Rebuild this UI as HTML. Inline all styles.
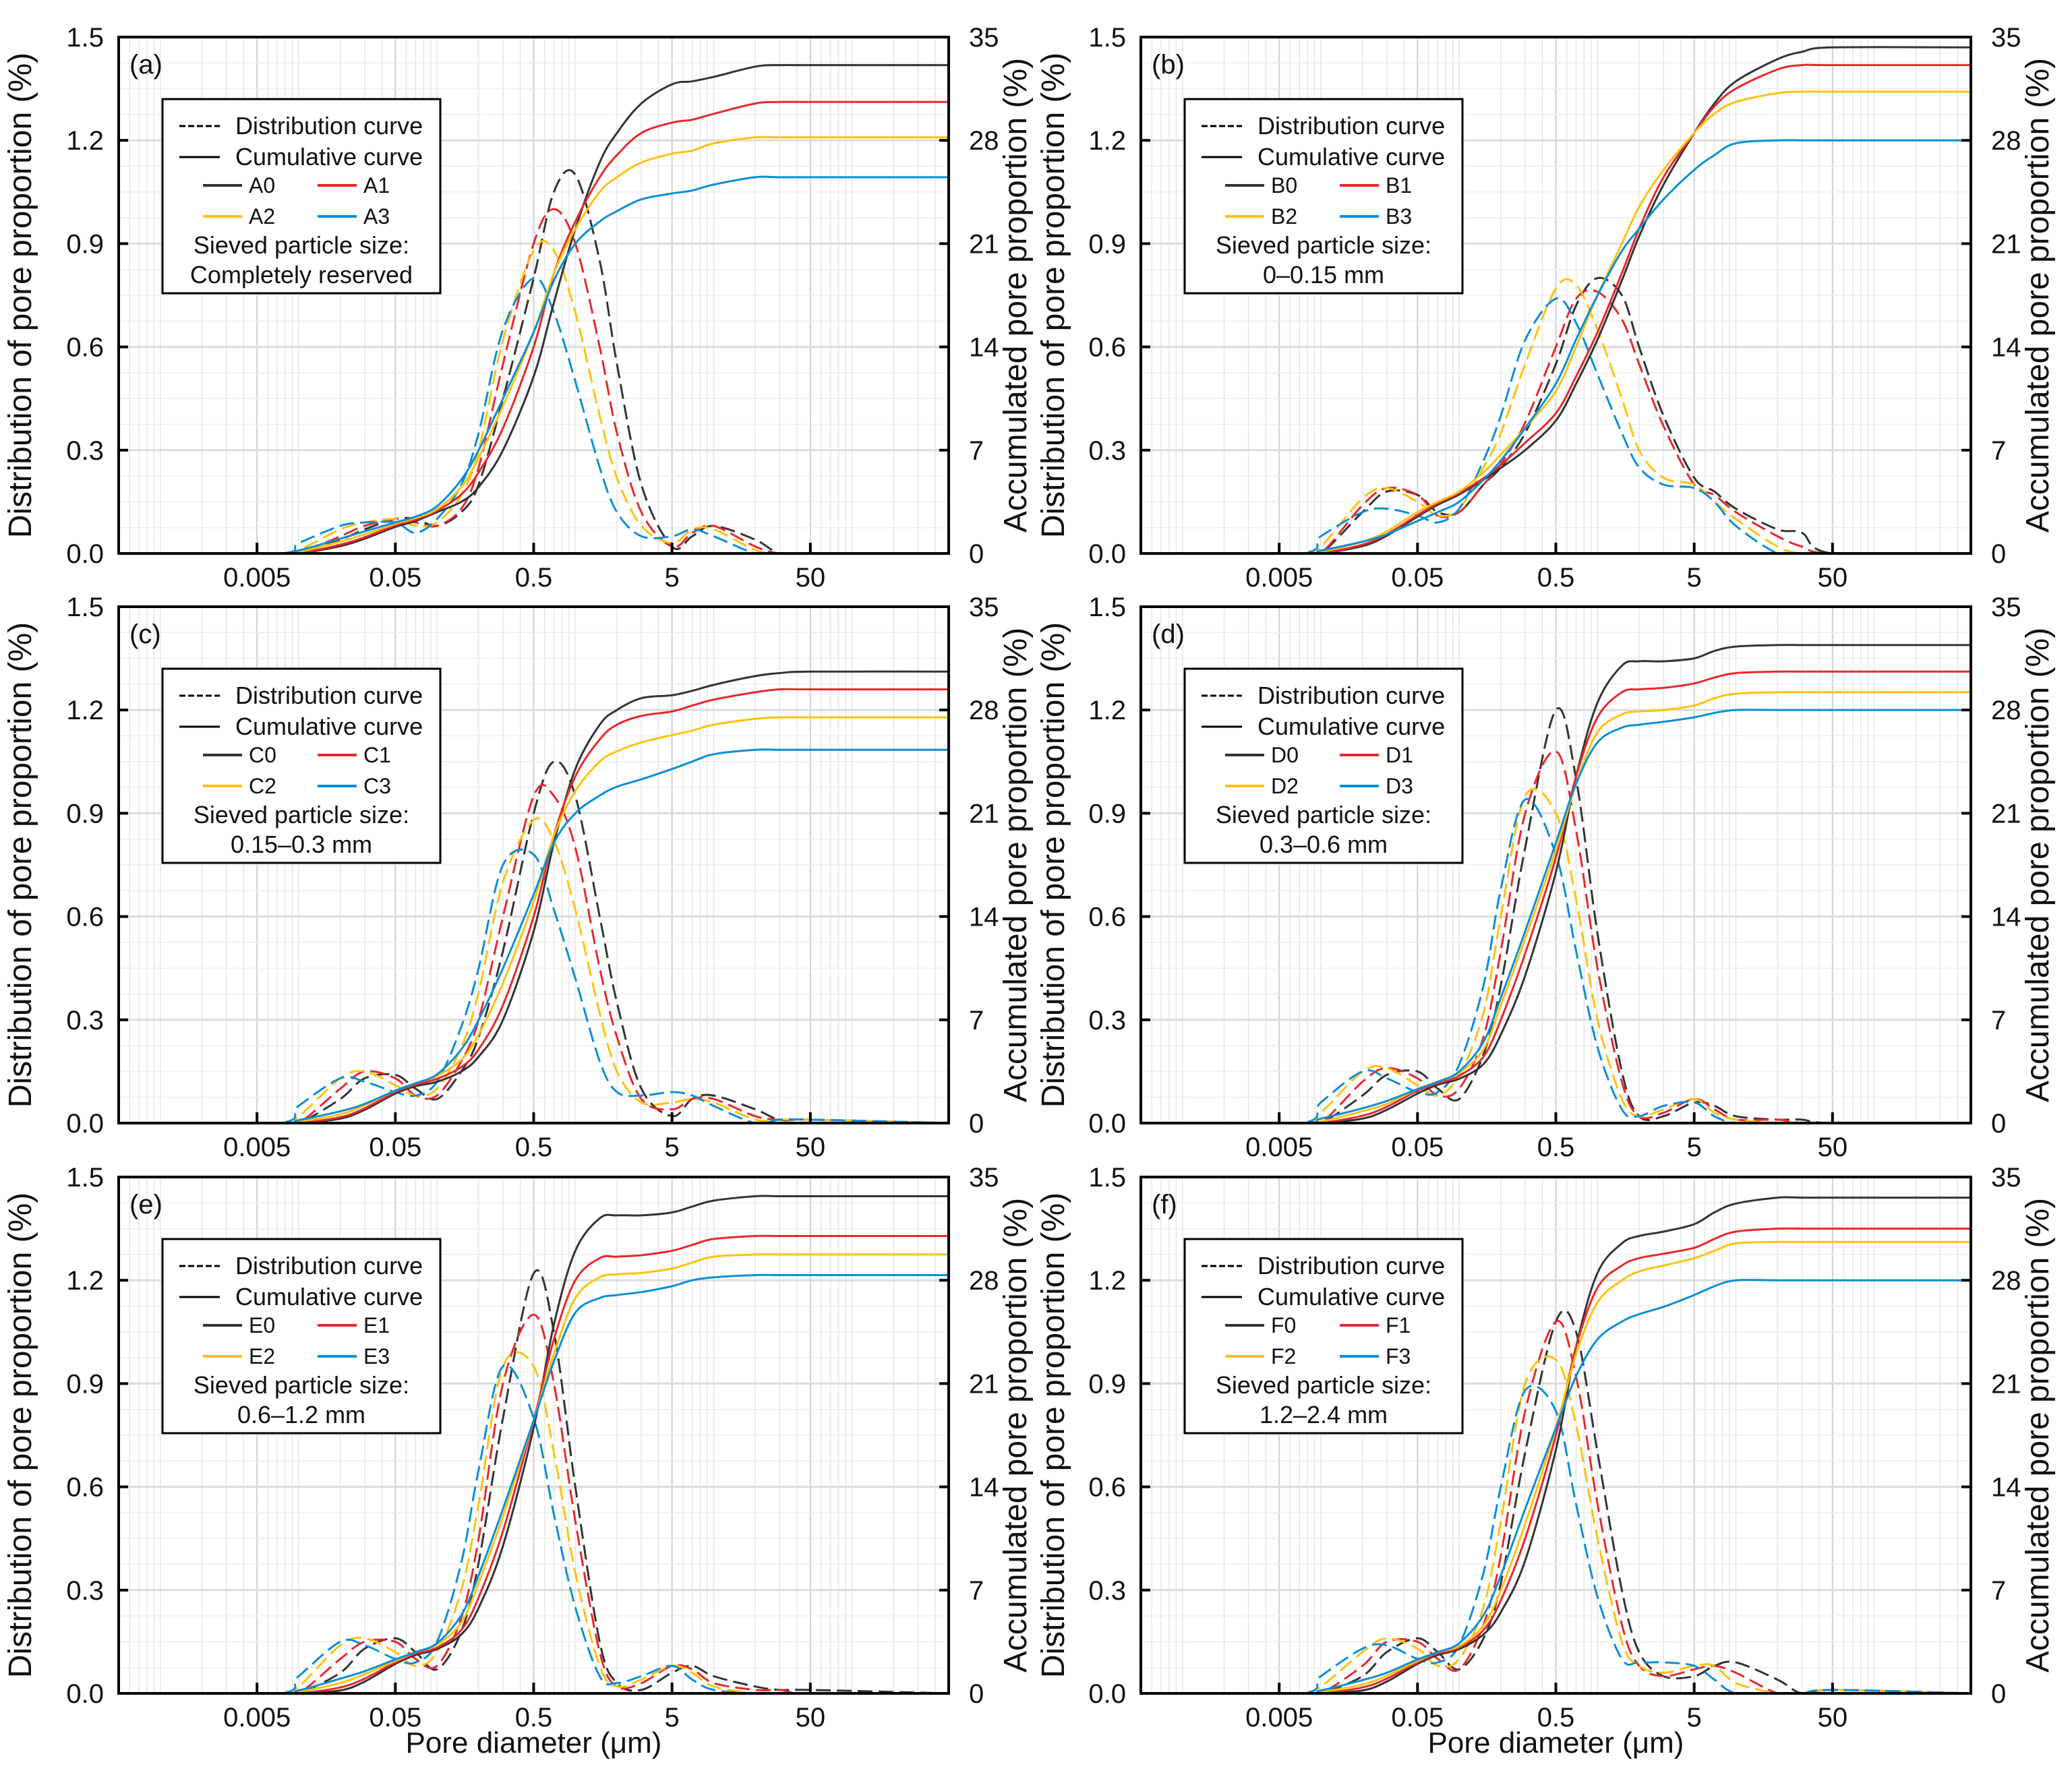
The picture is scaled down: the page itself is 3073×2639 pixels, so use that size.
<!DOCTYPE html>
<html><head><meta charset="utf-8"><style>
html,body{margin:0;padding:0;background:#fff;}
svg{display:block;font-family:"Liberation Sans",sans-serif;}
</style></head><body>
<svg id="fig" width="3073" height="2639" viewBox="0 0 3073 2639" xmlns="http://www.w3.org/2000/svg"></svg>
<script>
const diam = [0.007,0.01,0.02,0.03,0.05,0.07,0.1,0.15,0.2,0.3,0.5,0.7,1,1.5,2,3,5,7,10,20,30,50,500];
const xTicks = [0.005,0.05,0.5,5,50];
const xTickLabels = ["0.005","0.05","0.5","5","50"];
const yLeftTicks = ["0.0","0.3","0.6","0.9","1.2","1.5"];
const yRightTicks = ["0","7","14","21","28","35"];
const panelLetters = ["a","b","c","d","e","f"];
const panelSizes = ["Completely reserved","0\u20130.15 mm","0.15\u20130.3 mm","0.3\u20130.6 mm","0.6\u20131.2 mm","1.2\u20132.4 mm"];
const distA = [
[0,0,0.04,0.07,0.1,0.1,0.08,0.12,0.2,0.45,0.8,1.05,1.1,0.85,0.55,0.2,0.02,0.05,0.08,0.04,0,0,0],
[0,0,0.05,0.08,0.1,0.09,0.08,0.13,0.25,0.55,0.9,1.0,0.9,0.6,0.35,0.12,0.02,0.06,0.08,0.02,0,0,0],
[0,0.01,0.07,0.09,0.1,0.08,0.09,0.17,0.3,0.62,0.88,0.88,0.7,0.4,0.22,0.08,0.03,0.07,0.07,0.01,0,0,0],
[0,0.03,0.08,0.09,0.09,0.06,0.1,0.2,0.35,0.65,0.8,0.7,0.5,0.25,0.12,0.05,0.05,0.07,0.05,0,0,0,0]];
const cumA = [
[0,0,0.5,1,1.8,2.2,2.8,3.5,4.5,7,12,17,22,26.5,28.5,30.5,31.8,32,32.3,33,33.1,33.1,33.1],
[0,0,0.6,1.1,1.9,2.3,2.9,4,5.5,8.5,14,19,22.5,25.5,27,28.5,29.2,29.4,29.8,30.5,30.6,30.6,30.6],
[0,0.1,0.8,1.3,2,2.4,3,4.5,6.5,10,15,19,22,24.5,25.5,26.5,27.1,27.3,27.8,28.2,28.2,28.2,28.2],
[0,0.2,1,1.5,2.1,2.5,3.2,5,7,10.5,15,18.5,21,22.5,23.2,24,24.4,24.6,25,25.5,25.5,25.5,25.5]];
const distB = [
[0,0,0.12,0.18,0.17,0.12,0.12,0.2,0.25,0.35,0.55,0.72,0.8,0.75,0.6,0.4,0.22,0.18,0.13,0.07,0.06,0,0],
[0,0,0.14,0.19,0.17,0.11,0.12,0.2,0.26,0.38,0.6,0.74,0.76,0.68,0.55,0.37,0.2,0.17,0.12,0.05,0.02,0,0],
[0,0.02,0.16,0.19,0.15,0.11,0.13,0.25,0.35,0.55,0.77,0.78,0.65,0.45,0.3,0.22,0.2,0.15,0.1,0.02,0,0,0],
[0,0.05,0.12,0.13,0.11,0.09,0.13,0.27,0.4,0.62,0.74,0.67,0.52,0.35,0.25,0.2,0.19,0.15,0.08,0,0,0,0]];
const cumB = [
[0,0,0.5,1.2,2.5,3.3,4,5,5.8,7,9,11.5,14.5,18.5,21.5,25,28.5,30.5,32,33.5,34,34.3,34.3],
[0,0,0.6,1.3,2.6,3.4,4.1,5.1,6,7.5,9.5,12,15,19,22,25.5,28.5,30.3,31.5,32.8,33.1,33.1,33.1],
[0,0.1,0.8,1.5,2.8,3.5,4.2,5.5,6.7,8.5,11,14,17.5,21,23.5,26,28.5,29.8,30.6,31.2,31.3,31.3,31.3],
[0,0.2,0.8,1.3,2.2,2.8,3.5,5,6.3,8.5,11.5,14.5,17.5,20.5,22,24,26,27,27.8,28,28,28,28]];
const distC = [
[0,0,0.07,0.13,0.14,0.1,0.07,0.15,0.25,0.5,0.9,1.05,0.95,0.6,0.35,0.1,0.02,0.07,0.08,0.04,0.01,0.01,0],
[0,0,0.1,0.15,0.13,0.08,0.08,0.18,0.3,0.6,0.95,0.95,0.8,0.45,0.25,0.07,0.04,0.07,0.07,0.02,0.01,0.01,0],
[0,0.02,0.13,0.15,0.11,0.08,0.1,0.22,0.38,0.7,0.88,0.82,0.62,0.32,0.15,0.06,0.06,0.07,0.06,0.01,0.01,0.01,0],
[0,0.05,0.13,0.12,0.09,0.08,0.12,0.28,0.45,0.75,0.78,0.62,0.42,0.18,0.09,0.08,0.09,0.08,0.05,0,0.01,0.01,0]];
const cumC = [
[0,0,0.3,0.9,2,2.5,2.8,3.5,4.5,7,13,19,24,27,28,28.8,29,29.3,29.7,30.3,30.5,30.6,30.6],
[0,0,0.4,1,2.1,2.6,3,3.8,5,8,14,19.5,23.5,26,27,27.6,27.9,28.3,28.7,29.2,29.4,29.4,29.4],
[0,0.1,0.6,1.2,2.2,2.7,3.2,4.3,6,9.5,15,19.5,22.5,24.5,25.2,25.8,26.3,26.6,27,27.4,27.5,27.5,27.5],
[0,0.2,0.8,1.3,2.2,2.7,3.3,5,7,10.5,15.5,19,21,22.2,22.8,23.3,24,24.5,25,25.3,25.3,25.3,25.3]];
const distD = [
[0,0,0.08,0.14,0.15,0.1,0.07,0.2,0.4,0.8,1.2,1.0,0.55,0.15,0.02,0.02,0.06,0.05,0.02,0.01,0.01,0,0],
[0,0,0.12,0.16,0.13,0.08,0.1,0.25,0.5,0.9,1.08,0.85,0.45,0.12,0.02,0.03,0.07,0.04,0.01,0.01,0,0,0],
[0,0.03,0.15,0.16,0.11,0.08,0.14,0.32,0.6,0.95,0.9,0.65,0.3,0.07,0.02,0.04,0.07,0.03,0.01,0,0,0,0],
[0,0.06,0.15,0.13,0.09,0.09,0.17,0.4,0.68,0.94,0.78,0.5,0.22,0.04,0.02,0.05,0.06,0.02,0,0,0,0,0]];
const cumD = [
[0,0,0.3,0.9,2,2.6,3,4,6,10,17,23.5,28.5,31,31.3,31.3,31.5,32,32.3,32.4,32.4,32.4,32.4],
[0,0,0.5,1.1,2.2,2.7,3.2,4.5,7,11.5,18,23.5,27.5,29.2,29.4,29.5,29.8,30.2,30.5,30.6,30.6,30.6,30.6],
[0,0.1,0.8,1.3,2.3,2.8,3.4,5,8,12.5,18.5,23,26.5,27.7,27.9,28,28.3,28.8,29.1,29.2,29.2,29.2,29.2],
[0,0.3,1,1.5,2.3,2.8,3.5,5.5,8.5,13,19,23,25.8,26.8,27,27.2,27.5,27.8,28,28,28,28,28]];
const distE = [
[0,0,0.06,0.13,0.16,0.12,0.07,0.18,0.38,0.8,1.22,1.05,0.6,0.15,0.03,0.01,0.06,0.08,0.05,0.02,0.01,0.01,0],
[0,0,0.1,0.15,0.15,0.1,0.08,0.22,0.45,0.9,1.1,0.9,0.5,0.12,0.02,0.03,0.08,0.07,0.03,0.01,0.01,0,0],
[0,0.02,0.14,0.16,0.12,0.08,0.12,0.3,0.55,0.95,0.95,0.7,0.35,0.08,0.02,0.04,0.08,0.06,0.02,0,0,0,0],
[0,0.05,0.15,0.14,0.1,0.09,0.15,0.38,0.65,0.95,0.8,0.52,0.25,0.05,0.03,0.05,0.08,0.04,0.01,0,0,0,0]];
const cumE = [
[0,0,0.2,0.8,2,2.6,3,4,5.8,10,18,25,30,32.2,32.4,32.4,32.6,33,33.4,33.7,33.7,33.7,33.7],
[0,0,0.4,1,2.1,2.7,3.1,4.3,6.5,11,18.5,24,28,29.5,29.6,29.7,30,30.4,30.8,31,31,31,31],
[0,0.1,0.7,1.3,2.2,2.8,3.3,4.8,7.5,12,18.5,23,26.8,28.2,28.4,28.5,28.8,29.2,29.6,29.75,29.75,29.75,29.75],
[0,0.2,1,1.5,2.3,2.8,3.4,5.3,8,12.5,18.5,22.5,25.8,26.8,27,27.2,27.6,28,28.2,28.35,28.35,28.35,28.35]];
const distF = [
[0,0,0.05,0.12,0.16,0.12,0.07,0.16,0.32,0.7,1.08,1.05,0.7,0.3,0.12,0.05,0.05,0.08,0.09,0.04,0,0.01,0],
[0,0,0.08,0.15,0.15,0.1,0.07,0.2,0.4,0.82,1.08,0.92,0.55,0.2,0.08,0.05,0.07,0.08,0.06,0,0,0.01,0],
[0,0.02,0.12,0.16,0.13,0.08,0.1,0.25,0.5,0.9,0.97,0.78,0.45,0.15,0.08,0.06,0.08,0.08,0.03,0,0,0.01,0],
[0,0.05,0.13,0.14,0.1,0.09,0.14,0.35,0.6,0.88,0.82,0.55,0.28,0.1,0.09,0.09,0.08,0.04,0,0,0,0.01,0]];
const cumF = [
[0,0,0.2,0.8,2,2.6,3,4,5.5,9,16.5,23.5,28.5,30.5,31,31.3,31.8,32.6,33.2,33.6,33.6,33.6,33.6],
[0,0,0.4,1,2.1,2.7,3.1,4.3,6.3,10.5,17.5,23.5,27.5,29,29.5,29.8,30.2,30.8,31.3,31.5,31.5,31.5,31.5],
[0,0.1,0.6,1.2,2.2,2.8,3.2,4.6,7,11.5,18,23,26.5,28,28.6,29,29.5,30,30.5,30.6,30.6,30.6,30.6],
[0,0.2,0.9,1.4,2.3,2.8,3.4,5.3,8,12.5,18,21.5,24,25.2,25.7,26.2,27,27.6,28,28,28,28,28]];

const allDist=[distA,distB,distC,distD,distE,distF];
const allCum=[cumA,cumB,cumC,cumD,cumE,cumF];
const colors=["#333333","#e8282b","#ffc20e","#0a8fd6"];
const NS="http://www.w3.org/2000/svg";
const svg=document.getElementById('fig');
function el(tag,attrs,parent,text){const e=document.createElementNS(NS,tag);for(const k in attrs)e.setAttribute(k,attrs[k]);if(text!==undefined)e.textContent=text;(parent||svg).appendChild(e);return e;}
const PW=1231,PH=766;
const origins=[[176,55],[1692,55],[176,900],[1692,900],[176,1746],[1692,1746]];
const lmin=Math.log10(0.0005),lmax=Math.log10(500);
function smoothPath(pts){let d="M"+pts[0][0].toFixed(1)+","+pts[0][1].toFixed(1);for(let i=0;i<pts.length-1;i++){const p0=pts[Math.max(i-1,0)],p1=pts[i],p2=pts[i+1],p3=pts[Math.min(i+2,pts.length-1)];const c1=[p1[0]+(p2[0]-p0[0])/6,p1[1]+(p2[1]-p0[1])/6];const c2=[p2[0]-(p3[0]-p1[0])/6,p2[1]-(p3[1]-p1[1])/6];d+="C"+c1[0].toFixed(1)+","+c1[1].toFixed(1)+" "+c2[0].toFixed(1)+","+c2[1].toFixed(1)+" "+p2[0].toFixed(1)+","+p2[1].toFixed(1);}return d;}

origins.forEach((o,pi)=>{
  const [ox,oy]=o;
  const g=el('g',{});
  
  
  const xs=v=>ox+(Math.log10(v)-lmin)/(lmax-lmin)*PW;
  const yl=v=>oy+PH-v/1.5*PH;
  const yr=v=>oy+PH-v/35*PH;
  const cp=el('clipPath',{id:'clip'+pi},g);el('rect',{x:ox,y:oy,width:PW,height:PH},cp);
  for(let k=-4;k<=2;k++){for(let m=1;m<=9;m++){const v=m*Math.pow(10,k);if(v<=0.0005||v>=500)continue;const x=xs(v);const gl=el('line',{x1:x,y1:oy,x2:x,y2:oy+PH,stroke:m===5?'#d0d0d0':'#e6e6e6','stroke-width':m===5?2:1.5},g);}}
  for(let i=1;i<20;i++){const y=oy+PH-i*PH/20;const gl=el('line',{x1:ox,y1:y,x2:ox+PW,y2:y,stroke:i%4===0?'#dcdcdc':'#eeeeee','stroke-width':i%4===0?3:1.5},g);}
  const sg=el('g',{'clip-path':'url(#clip'+pi+')'},g);
  for(let s=0;s<4;s++){
    const dp=[[xs(0.0005),yl(0)]].concat(diam.map((d,i)=>[xs(d),yl(allDist[pi][s][i])]));
    const p=el('path',{d:smoothPath(dp),fill:'none',stroke:colors[s],'stroke-width':3,'stroke-dasharray':'22,9'},sg);
    
    
  }
  for(let s=0;s<4;s++){
    const cpts=[[xs(0.0005),yr(0)]].concat(diam.map((d,i)=>[xs(d),yr(allCum[pi][s][i])]));
    const p=el('path',{d:smoothPath(cpts),fill:'none',stroke:colors[s],'stroke-width':3},sg);
    
    
  }
  const fr=el('rect',{x:ox,y:oy,width:PW,height:PH,fill:'none',stroke:'#000','stroke-width':4},g);
  
  yLeftTicks.forEach((t,i)=>{const y=oy+PH-i*PH/5;el('line',{x1:ox,y1:y,x2:ox+14,y2:y,stroke:'#000','stroke-width':4},g);
    const tx=el('text',{x:ox-22,y:y+14,'font-size':40,'text-anchor':'end',fill:'#111'},g,t);});
  yRightTicks.forEach((t,i)=>{const y=oy+PH-i*PH/5;el('line',{x1:ox+PW-14,y1:y,x2:ox+PW,y2:y,stroke:'#000','stroke-width':4},g);
    const tx=el('text',{x:ox+PW+30,y:y+14,'font-size':40,'text-anchor':'start',fill:'#111'},g,t);});
  xTicks.forEach((v,i)=>{const x=xs(v);el('line',{x1:x,y1:oy+PH,x2:x,y2:oy+PH-16,stroke:'#000','stroke-width':4},g);
    const tx=el('text',{x:x,y:oy+PH+49,'font-size':40,'text-anchor':'middle',fill:'#111'},g,xTickLabels[i]);});
  const lx=ox-(pi%2===0?130:114), cy=oy+PH/2;
  const yt=el('text',{x:lx,y:cy,'font-size':48,'text-anchor':'middle',transform:'rotate(-90 '+lx+' '+cy+')',fill:'#111'},g,'Distribution of pore proportion (%)');
  
  const rx=ox+PW+115;
  const rt=el('text',{x:rx,y:cy,'font-size':48,'text-anchor':'middle',transform:'rotate(-90 '+rx+' '+cy+')',fill:'#111'},g,'Accumulated pore proportion (%)');
  
  if(pi>=4){const xt=el('text',{x:ox+PW/2,y:oy+PH+88,'font-size':44,'text-anchor':'middle',fill:'#111'},g,'Pore diameter (\u03bcm)');}
  const pl=el('text',{x:ox+16,y:oy+54,'font-size':40,fill:'#111'},g,'('+panelLetters[pi]+')');
  
  const bx=ox+65,by=oy+92;
  const lg=el('g',{},g);
  
  el('rect',{x:bx,y:by,width:412,height:288,fill:'#fff',stroke:'#000','stroke-width':3},lg);
  el('line',{x1:bx+25,y1:by+40,x2:bx+85,y2:by+40,stroke:'#000','stroke-width':3,'stroke-dasharray':'9,4'},lg);
  el('text',{x:bx+108,y:by+52,'font-size':36,fill:'#111'},lg,'Distribution curve');
  el('line',{x1:bx+25,y1:by+86,x2:bx+85,y2:by+86,stroke:'#000','stroke-width':3},lg);
  el('text',{x:bx+108,y:by+98,'font-size':36,fill:'#111'},lg,'Cumulative curve');
  for(let s=0;s<4;s++){const cx=bx+60+(s%2)*170, ry=by+128+Math.floor(s/2)*46;
    const le=el('g',{},lg);
    el('line',{x1:cx,y1:ry,x2:cx+58,y2:ry,stroke:colors[s],'stroke-width':4},le);
    el('text',{x:cx+68,y:ry+11,'font-size':32,fill:'#111'},le,panelLetters[pi].toUpperCase()+s);}
  el('text',{x:bx+206,y:by+229,'font-size':36,'text-anchor':'middle',fill:'#111'},lg,'Sieved particle size:');
  el('text',{x:bx+206,y:by+273,'font-size':36,'text-anchor':'middle',fill:'#111'},lg,panelSizes[pi]);
});
</script>
</body></html>
